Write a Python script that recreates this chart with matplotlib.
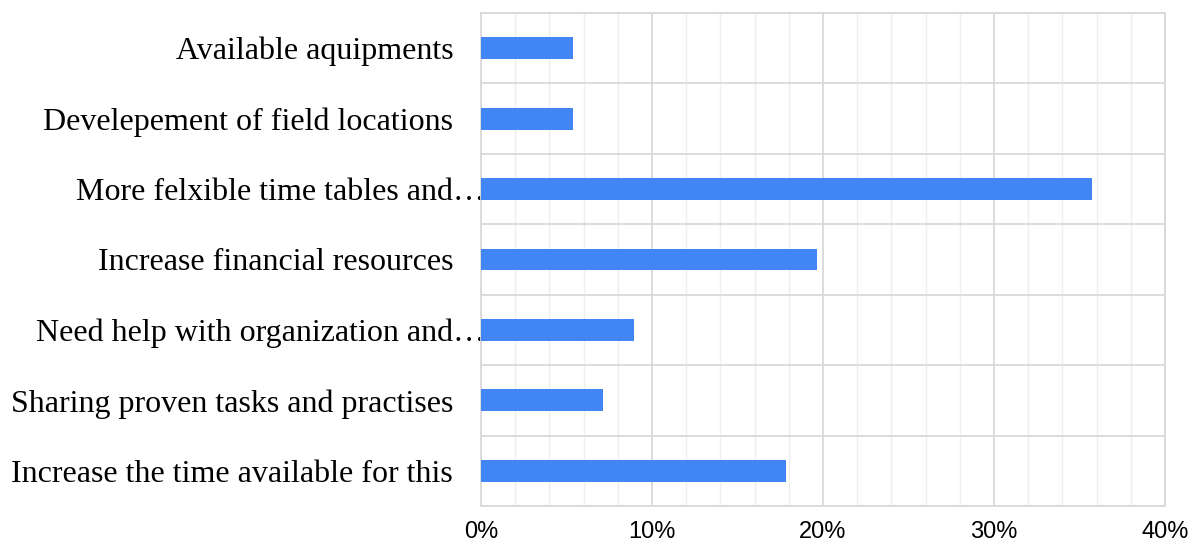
import numpy as np
import matplotlib.pyplot as plt
from matplotlib.ticker import MultipleLocator, FuncFormatter
from matplotlib.transforms import ScaledTranslation

# answers, top to bottom as in the chart
labels = ["Available aquipments",
          "Develepement of field locations",
          "More felxible time tables and\u2026",
          "Increase financial resources",
          "Need help with organization and\u2026",
          "Sharing proven tasks and practises",
          "Increase the time available for this"]
share = [0.0536, 0.0536, 0.3571, 0.1964, 0.0893, 0.0714, 0.1786]

fig = plt.figure(figsize=(11.95, 5.47), dpi=100)
ax = fig.add_axes([0.4025, 0.075, 0.5724, 0.9012])

ypos = np.arange(len(labels))
ax.barh(ypos, share, height=0.31, color='#4285F4', zorder=3)

ax.set_xlim(0, 0.40)
ax.set_ylim(len(labels) - 0.5, -0.5)

ax.xaxis.set_major_locator(MultipleLocator(0.10))
ax.xaxis.set_minor_locator(MultipleLocator(0.02))
ax.xaxis.set_major_formatter(FuncFormatter(lambda v, p: "%d%%" % round(v * 100)))
ax.grid(which='major', axis='x', color='#d9d9d9', linewidth=1.3, zorder=1)
ax.grid(which='minor', axis='x', color='#efefef', linewidth=1.0, zorder=0)

# category separators
ax.set_yticks(ypos)
ax.set_yticks(np.arange(len(labels) + 1) - 0.5, minor=True)
ax.grid(which='minor', axis='y', color='#d9d9d9', linewidth=1.3, zorder=1)

ax.set_yticklabels(labels, family='Liberation Serif', fontsize=23)
ax.tick_params(axis='y', which='both', length=0, pad=20)
ax.tick_params(axis='x', which='both', length=0, pad=11, labelsize=17)
for t in ax.get_xticklabels():
    t.set_family('Liberation Sans')

# truncated labels run up to the axis
for t in ax.get_yticklabels():
    if t.get_text().endswith('\u2026'):
        t.set_transform(t.get_transform() + ScaledTranslation(0.32, 0, fig.dpi_scale_trans))

for s in ax.spines.values():
    s.set_color('#d9d9d9')
    s.set_linewidth(1.3)

fig.savefig('out.png', dpi=100)
